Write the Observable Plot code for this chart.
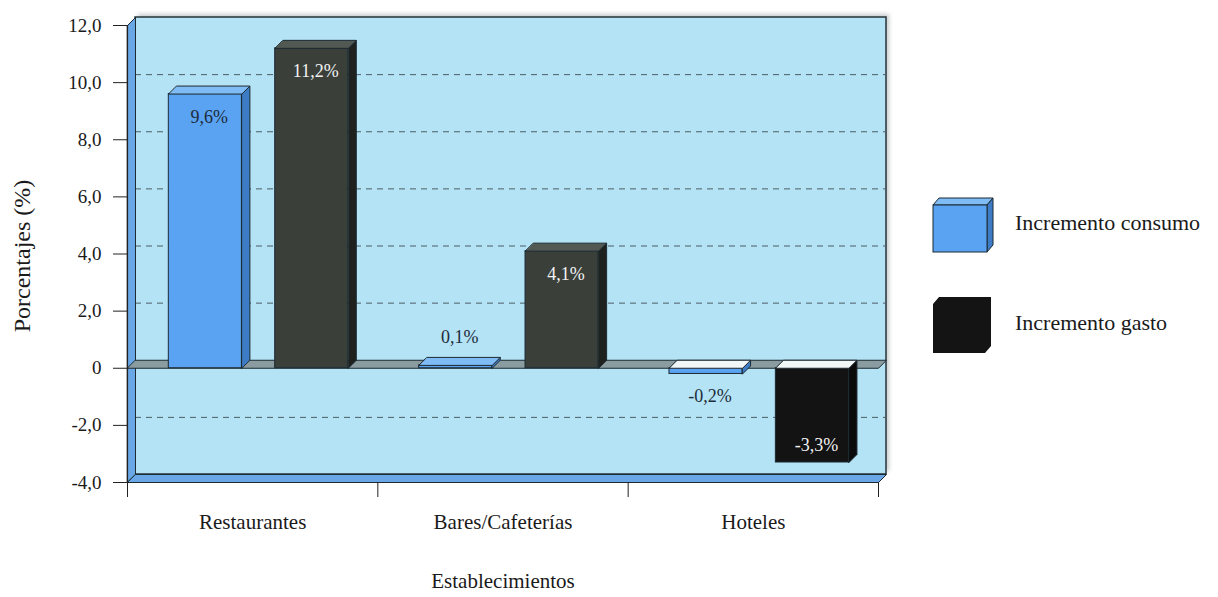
<!DOCTYPE html>
<html>
<head>
<meta charset="utf-8">
<script src="https://cdn.jsdelivr.net/npm/d3@7"></script>
<script src="https://cdn.jsdelivr.net/npm/@observablehq/plot@0.6"></script>
<style>
  body { margin: 0; background: #fff; font-family: "Liberation Serif", "Times New Roman", serif; }
  #chart { position: relative; width: 1218px; height: 597px; }
  #chart > svg { position: absolute; left: 0; top: 0; }
  #legend { position: absolute; left: 0; top: 0; pointer-events: none; }
</style>
</head>
<body>
<div id="chart"></div>
<script>
// Datos: variación interanual por tipo de establecimiento
const categorias = ["Restaurantes", "Bares/Cafeterías", "Hoteles"];
const series = ["Incremento consumo", "Incremento gasto"];
const consumo = [9.6, 0.1, -0.2];
const gasto = [11.2, 4.1, -3.3];
const yTicks = [-4, -2, 0, 2, 4, 6, 8, 10, 12];
const yDomain = [-4, 12];

// Geometría del gráfico
const W = 900, H = 597;
const M = {top: 25, right: 22, bottom: 115, left: 127};
const n = categorias.length;
const pxPerCat = (W - M.left - M.right) / n;
const pxPerUnit = (H - M.top - M.bottom) / (yDomain[1] - yDomain[0]);
const DEPTH = 8;                       // profundidad del efecto 3D, en píxeles
const DX = DEPTH / pxPerCat, DY = DEPTH / pxPerUnit;
const BAR_W = 0.292;                   // ancho de barra, en fracción de categoría
const LINE = "#1c2a32";
const FONT = "Liberation Serif, Times New Roman, serif";

const estilo = [
  {offset: 0.165, front: "#5aa3f2", top: "#7fbbf5", side: "#3d7cc4"},
  {offset: 0.59, front: "#3a3f3a", top: "#525852", side: "#1e211e"}
];

const bars = categorias.flatMap((cat, i) => [consumo[i], gasto[i]].map((v, s) => {
  const x1 = i + estilo[s].offset;
  return {cat, serie: series[s], s, value: v, x1, x2: x1 + BAR_W, lo: Math.min(0, v), hi: Math.max(0, v)};
}));

const frontFill = b => (b.s === 1 && b.value < 0) ? "#131313" : estilo[b.s].front;
const sideFill = b => (b.s === 1 && b.value < 0) ? "#0b0b0b" : estilo[b.s].side;

// Polígonos (caras laterales y superiores) en coordenadas de datos
const poly = (id, fill, pts) => pts.map(([x, y]) => ({id, fill, x, y}));

const escena = [
  ...poly("pared", "#69a7e6", [[0, yDomain[0]], [DX, yDomain[0] + DY], [DX, yDomain[1] + DY], [0, yDomain[1]]]),
  ...poly("suelo", "#69a7e6", [[0, yDomain[0]], [n, yDomain[0]], [n + DX, yDomain[0] + DY], [DX, yDomain[0] + DY]])
];
const planoCero = poly("cero", "#8b9ca0", [[0, 0], [n, 0], [n + DX, DY], [DX, DY]]);

const caras = bars.flatMap((b, k) => [
  ...poly(`lado${k}`, sideFill(b), [[b.x2, b.lo], [b.x2 + DX, b.lo + DY], [b.x2 + DX, b.hi + DY], [b.x2, b.hi]]),
  ...poly(`tapa${k}`, b.value < 0 ? "#f1f6f7" : estilo[b.s].top, [[b.x1, b.hi], [b.x2, b.hi], [b.x2 + DX, b.hi + DY], [b.x1 + DX, b.hi + DY]])
]);

// Posición de las etiquetas de valor: dentro de la barra si cabe, fuera si no
const dentro = b => Math.abs(b.value) > 1;
const labelY = b => {
  const px = b.value >= 0 ? (dentro(b) ? -23 : 28) : (dentro(b) ? 17 : -22);
  return b.value + px / pxPerUnit;
};
const fmtPct = v => v.toFixed(1).replace(".", ",") + "%";
const fmtTick = v => v === 0 ? "0" : v.toFixed(1).replace(".", ",");

const polyLine = (data) => Plot.line(data, {
  x: "x", y: "y", z: "id", fill: "fill", stroke: LINE, strokeWidth: 1, curve: "linear-closed"
});

const chart = Plot.plot({
  width: W,
  height: H,
  marginTop: M.top, marginRight: M.right, marginBottom: M.bottom, marginLeft: M.left,
  x: {type: "linear", domain: [0, n]},
  y: {domain: yDomain},
  color: {type: "identity"},
  style: {fontFamily: FONT, fontSize: "19px", color: "#1a1a1a", background: "transparent"},
  marks: [
    // sombra y pared del fondo
    Plot.rect([{}], {x1: 0, x2: n, y1: yDomain[0], y2: yDomain[1], dx: DEPTH + 3, dy: -DEPTH - 3, fill: "#7f8c90", fillOpacity: 0.45, imageFilter: "blur(2px)"}),
    Plot.rect([{}], {x1: 0, x2: n, y1: yDomain[0], y2: yDomain[1], dx: DEPTH, dy: -DEPTH, fill: "#b4e3f5", stroke: "#26343a", strokeWidth: 1.5}),
    // rejilla discontinua sobre la pared del fondo
    Plot.ruleY(yTicks.filter(t => t !== 0 && t !== yDomain[0] && t !== yDomain[1]), {
      x1: 0, x2: n, dx: DEPTH, dy: -DEPTH, stroke: "#4d5d66", strokeWidth: 1, strokeDasharray: "6,5"
    }),
    // pared lateral, suelo y plano del cero
    polyLine(escena),
    polyLine(planoCero),
    // barras: cara frontal y caras de profundidad
    Plot.rect(bars, {x1: "x1", x2: "x2", y1: "lo", y2: "hi", fill: frontFill, stroke: LINE, strokeWidth: 1}),
    polyLine(caras),
    // etiquetas de valor
    Plot.text(bars, {
      x: b => (b.x1 + b.x2) / 2 + DX / 2,
      y: labelY,
      text: b => fmtPct(b.value),
      fill: b => (dentro(b) && b.s === 1) ? "#f2f2f2" : "#1d2b3a",
      fontFamily: FONT,
      fontSize: 18
    }),
    // ejes
    Plot.ruleX([0], {y1: yDomain[0], y2: yDomain[1], stroke: "#222", strokeWidth: 1.2}),
    Plot.axisY({ticks: yTicks, tickSize: 14, tickPadding: 12, tickFormat: fmtTick, fontSize: 19, label: null, stroke: "#222"}),
    Plot.axisX({ticks: d3.range(n + 1), tickSize: 15, tickFormat: () => "", label: null, stroke: "#222"}),
    Plot.axisX({ticks: categorias.map((_, i) => i + 0.5), tickSize: 0, tickPadding: 32, tickFormat: v => categorias[Math.floor(v)], fontSize: 21, label: null}),
    Plot.text(["Establecimientos"], {text: d => d, frameAnchor: "bottom", dy: 105, fontSize: 21, fill: "#1a1a1a"}),
    Plot.text(["Porcentajes (%)"], {text: d => d, frameAnchor: "left", textAnchor: "middle", dx: -105, dy: 2, rotate: -90, fontSize: 24, fill: "#1a1a1a"})
  ]
});

const root = document.getElementById("chart");
root.appendChild(chart);

// Leyenda a la derecha del gráfico
const leyenda = d3.select(root).append("svg")
  .attr("id", "legend").attr("width", 1218).attr("height", 597);

const cajaAzul = leyenda.append("g").attr("transform", "translate(933,198)");
cajaAzul.append("polygon").attr("points", "0,7 6,0 60,0 54,7").attr("fill", estilo[0].top).attr("stroke", LINE);
cajaAzul.append("polygon").attr("points", "54,7 60,0 60,47 54,54").attr("fill", estilo[0].side).attr("stroke", LINE);
cajaAzul.append("rect").attr("x", 0).attr("y", 7).attr("width", 54).attr("height", 47).attr("fill", estilo[0].front).attr("stroke", LINE);

leyenda.append("polygon")
  .attr("points", "939,297 991,297 991,346 985,353 933,353 933,304")
  .attr("fill", "#141414");

leyenda.selectAll("text.serie").data(series).join("text")
  .attr("class", "serie")
  .attr("x", 1015)
  .attr("y", (d, i) => 225 + i * 100)
  .attr("dominant-baseline", "middle")
  .attr("font-family", FONT)
  .attr("font-size", 22)
  .attr("fill", "#1a1a1a")
  .text(d => d);
</script>
</body>
</html>
